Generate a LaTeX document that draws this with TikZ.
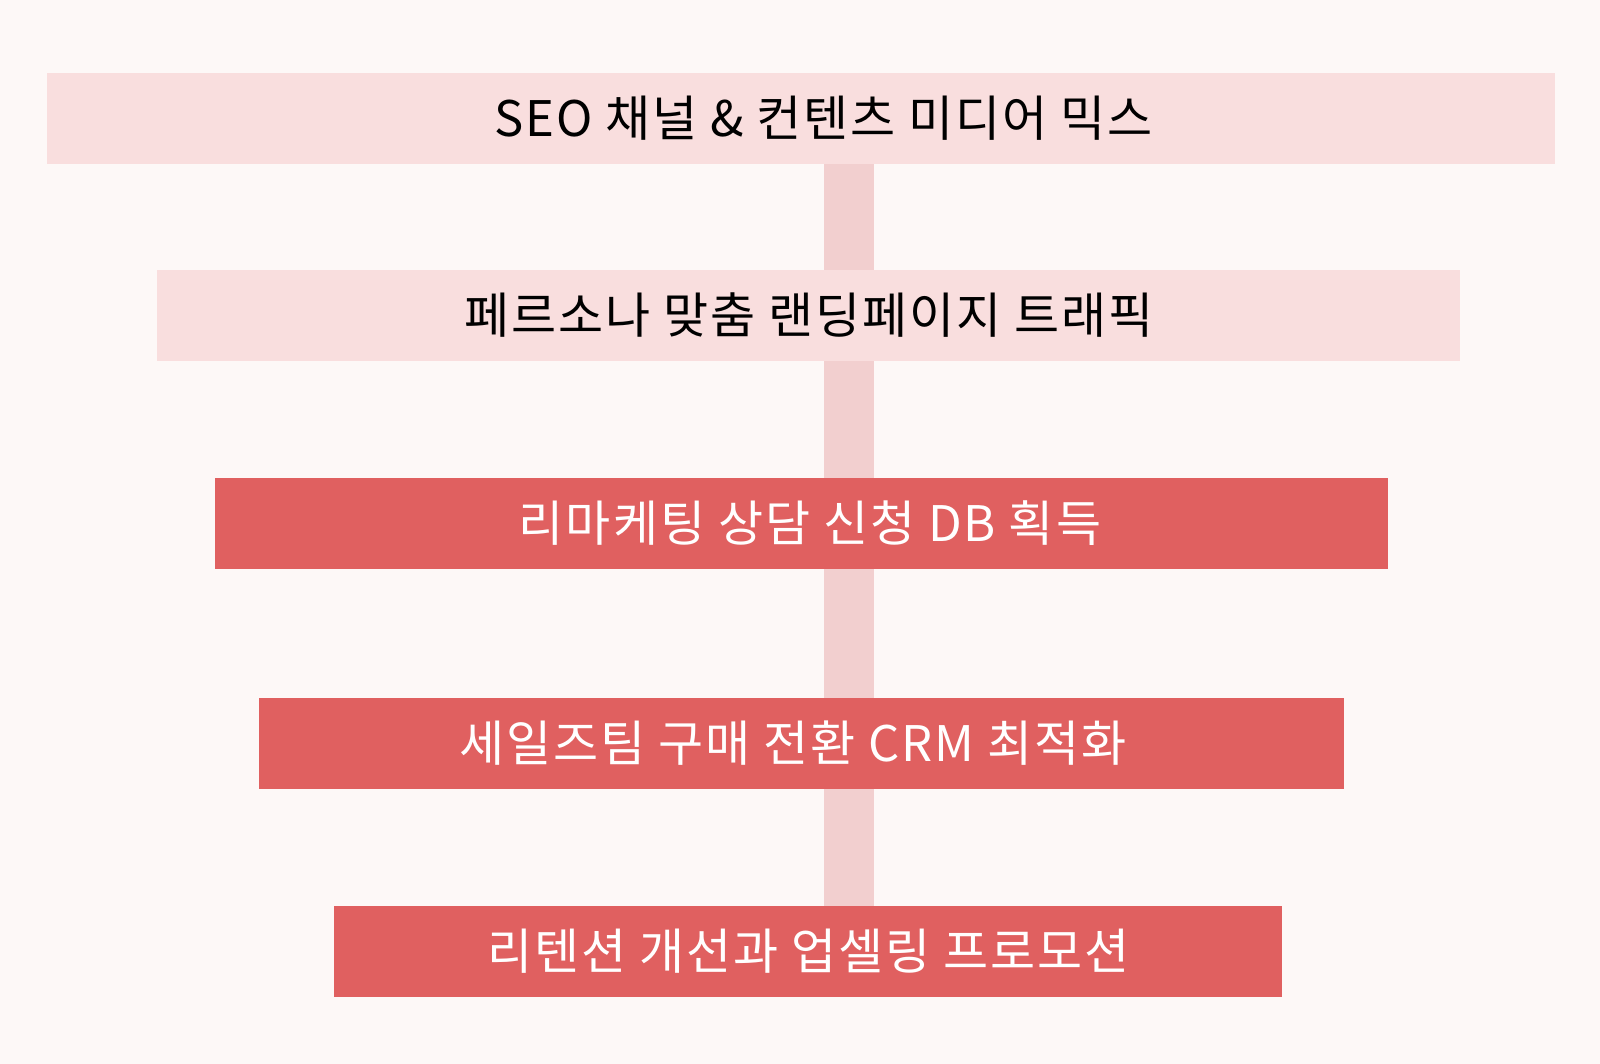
\documentclass[tikz,border=0pt]{standalone}
\usepackage{fontspec}
\setmainfont[LetterSpace=4]{Noto Sans CJK KR}
\usetikzlibrary{backgrounds}
\definecolor{bgc}{HTML}{FDF8F7}
\definecolor{lightbar}{HTML}{F9DEDE}
\definecolor{redbar}{HTML}{E06060}
\definecolor{conncol}{HTML}{F2CFCF}
\tikzset{
  barbox/.style={rectangle, inner sep=0pt, outer sep=0pt, minimum height=91pt, draw=none},
  lightbox/.style={barbox, fill=lightbar},
  redbox/.style={barbox, fill=redbar},
  lbl/.style={inner sep=0pt, font=\fontsize{49}{57}\selectfont},
  darklbl/.style={lbl, text=black},
  whitelbl/.style={lbl, text=white},
  conn/.style={draw=conncol, line width=50pt}
}
\begin{document}
\begin{tikzpicture}[x=1pt, y=-1pt]
\useasboundingbox (0,0) rectangle (1600,1064);
\node[lightbox, minimum width=1508pt] (b1) at (801,118.5) {};
\node[lightbox, minimum width=1303pt] (b2) at (808.5,315.5) {};
\node[redbox, minimum width=1173pt] (b3) at (801.5,523.5) {};
\node[redbox, minimum width=1085pt] (b4) at (801.5,743.5) {};
\node[redbox, minimum width=948pt] (b5) at (808,951.5) {};
\coordinate (cx) at (849,0);
\begin{scope}[on background layer]
\fill[bgc] (0,0) rectangle (1600,1064);
\draw[conn] (b1.south -| cx) -- (b5.north -| cx);
\end{scope}
\node[darklbl] (t1) at (823.5,118) {SEO 채널 \& 컨텐츠 미디어 믹스};
\node[darklbl] (t2) at (808.8,315) {페르소나 맞춤 랜딩페이지 트래픽};
\node[whitelbl] (t3) at (810,523) {리마케팅 상담 신청 DB 획득};
\node[whitelbl] (t4) at (793,743) {세일즈팀 구매 전환 CRM 최적화};
\node[whitelbl] (t5) at (808.5,951) {리텐션 개선과 업셀링 프로모션};
\end{tikzpicture}
\end{document}
